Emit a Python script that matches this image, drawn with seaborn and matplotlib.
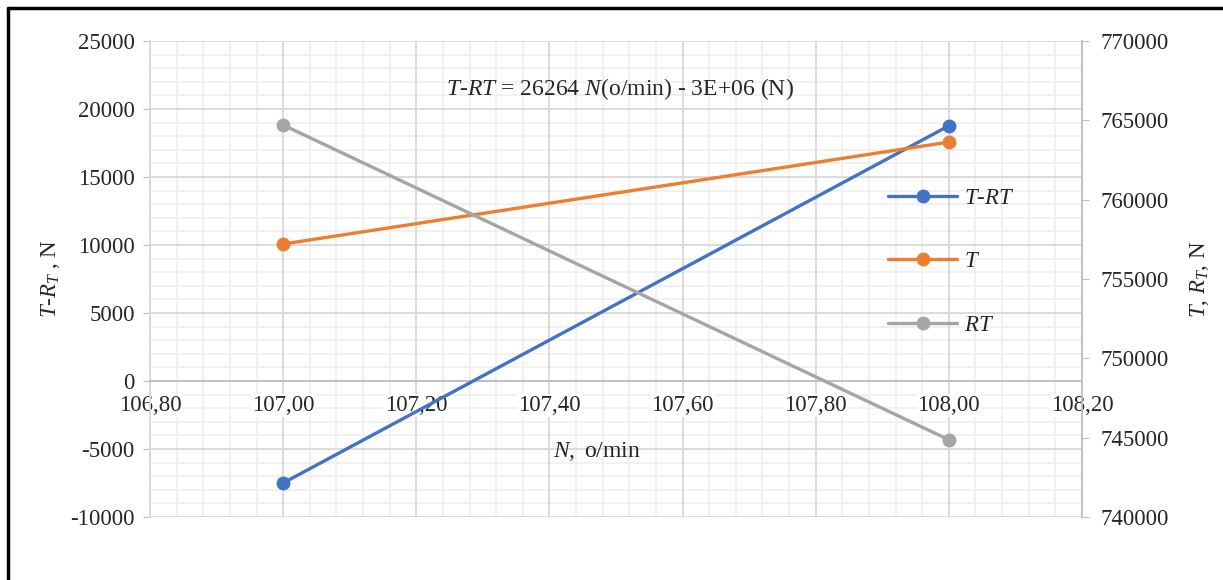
import numpy as np
import pandas as pd
import matplotlib
matplotlib.use('Agg')
import matplotlib.pyplot as plt
from matplotlib.ticker import MultipleLocator, AutoMinorLocator, FuncFormatter, NullLocator
from matplotlib.lines import Line2D
import seaborn as sns

# Data
n_rpm = [107.0, 108.0]
t_minus_rt = [-7500, 18764]
thrust = [757205, 763630]
resistance = [764705, 744866]
series_names = ['T-RT', 'T', 'RT']
series_colors = ['#4472C4', '#ED7D31', '#A5A5A5']

sns.set_style('white')
plt.rcParams['font.family'] = ['Liberation Serif', 'DejaVu Serif']
plt.rcParams['mathtext.fontset'] = 'custom'
plt.rcParams['mathtext.rm'] = 'Liberation Serif'
plt.rcParams['mathtext.it'] = 'Liberation Serif:italic'

FS = 16.5
pos = [150 / 1223, 63 / 580, 932 / 1223, 476 / 580]
x_lim = (106.8, 108.2)
y_lim = (-10000, 25000)
y2_lim = (740000, 770000)

fig = plt.figure(figsize=(12.23, 5.8), dpi=100)

# background axes that only carries the light minor grid
ax_bg = fig.add_axes(pos)
ax_bg.set_zorder(-1)
ax = fig.add_axes(pos)
ax.patch.set_visible(False)
ax2 = ax.twinx()
ax2.patch.set_visible(False)

df_left = pd.DataFrame({'N': n_rpm, 'val': t_minus_rt})
df_right = pd.DataFrame({'N': n_rpm * 2, 'val': thrust + resistance,
                         'series': ['T'] * 2 + ['RT'] * 2})

sns.lineplot(data=df_left, x='N', y='val', ax=ax, color=series_colors[0],
             marker='o', markersize=10, markeredgewidth=0, linewidth=2.4, zorder=5)
sns.lineplot(data=df_right, x='N', y='val', hue='series', hue_order=['T', 'RT'],
             palette=series_colors[1:], ax=ax2, marker='o', markersize=10,
             markeredgewidth=0, linewidth=2.4, legend=False)

for a in (ax, ax_bg):
    a.set_xlim(*x_lim)
    a.set_ylim(*y_lim)
    a.xaxis.set_major_locator(MultipleLocator(0.2))
    a.yaxis.set_major_locator(MultipleLocator(5000))
ax2.set_ylim(*y2_lim)
ax2.yaxis.set_major_locator(MultipleLocator(5000))

ax.xaxis.set_major_formatter(FuncFormatter(lambda v, p: f'{v:.2f}'.replace('.', ',')))
ax.yaxis.set_major_formatter(FuncFormatter(lambda v, p: f'{int(round(v))}'))
ax2.yaxis.set_major_formatter(FuncFormatter(lambda v, p: f'{int(round(v))}'))

# minor grid on the background axes
ax_bg.xaxis.set_minor_locator(AutoMinorLocator(5))
ax_bg.yaxis.set_minor_locator(AutoMinorLocator(5))
ax_bg.grid(which='minor', color='#f0f0f0', linewidth=1.3)
ax_bg.grid(which='major', visible=False)
ax_bg.tick_params(which='both', length=0, labelbottom=False, labelleft=False)
for s in ax_bg.spines.values():
    s.set_visible(False)

ax.grid(which='major', color='#d9d9d9', linewidth=1.3)
ax.set_axisbelow(True)

for a in (ax, ax2):
    for s in a.spines.values():
        s.set_visible(False)
ax.spines['bottom'].set_position(('data', 0))
ax.spines['bottom'].set_visible(True)
ax.spines['bottom'].set_color('#bfbfbf')
ax.spines['bottom'].set_linewidth(1.3)
ax.spines['left'].set_visible(True)
ax.spines['left'].set_color('#d9d9d9')
ax.spines['left'].set_linewidth(1.3)
ax.spines['right'].set_visible(True)
ax.spines['right'].set_color('#bfbfbf')
ax.spines['right'].set_linewidth(1.3)
for s in ('bottom', 'left', 'right'):
    ax.spines[s].set_zorder(0.6)

ax.tick_params(axis='x', which='major', labelsize=FS, length=6, direction='inout',
               color='#bfbfbf', pad=7)
ax.tick_params(axis='y', which='major', labelsize=FS, length=5, color='#bfbfbf', pad=6)
ax.xaxis.set_minor_locator(NullLocator())
ax.yaxis.set_minor_locator(NullLocator())
ax2.tick_params(axis='y', labelsize=FS, length=5, color='#bfbfbf', pad=8)

# tick labels sit on white boxes over the grid
fig.canvas.draw()
for lbl in ax.get_xticklabels():
    lbl.set_bbox(dict(facecolor='white', edgecolor='none', pad=0.5))

ax.set_xlabel('')
ax.set_ylabel(r'$T$-$R_T$ , N', fontsize=FS, labelpad=6)
ax2.set_ylabel(r'$T$, $R_T$, N', fontsize=FS, labelpad=14)

ax.text(0.48, 0.137, r'$N,$ o/min', transform=ax.transAxes, fontsize=FS + 0.5,
        ha='center', va='center')
ax.text(0.504, 0.9, r'$T$-$RT$ = 26264 $N$(o/min) - 3E+06 (N)', transform=ax.transAxes,
        fontsize=FS + 0.5, ha='center', va='center')

handles = [Line2D([], [], color=c, marker='o', markersize=10, linewidth=2.4,
                  markeredgewidth=0) for c in series_colors]
labels = [r'$T$-$RT$', r'$T$', r'$RT$']
ax2.legend(handles, labels, loc='upper left', bbox_to_anchor=(0.77, 0.735),
           frameon=False, fontsize=FS, handlelength=3.0, labelspacing=1.85,
           handletextpad=0.3)

# outer frame (top and left edges)
fig.add_artist(Line2D([8 / 1223, 1], [572 / 580, 572 / 580], color='black',
                      linewidth=2.5, transform=fig.transFigure))
fig.add_artist(Line2D([8 / 1223, 8 / 1223], [0, 572 / 580], color='black',
                      linewidth=2.5, transform=fig.transFigure))

fig.savefig('out.png', dpi=100)
